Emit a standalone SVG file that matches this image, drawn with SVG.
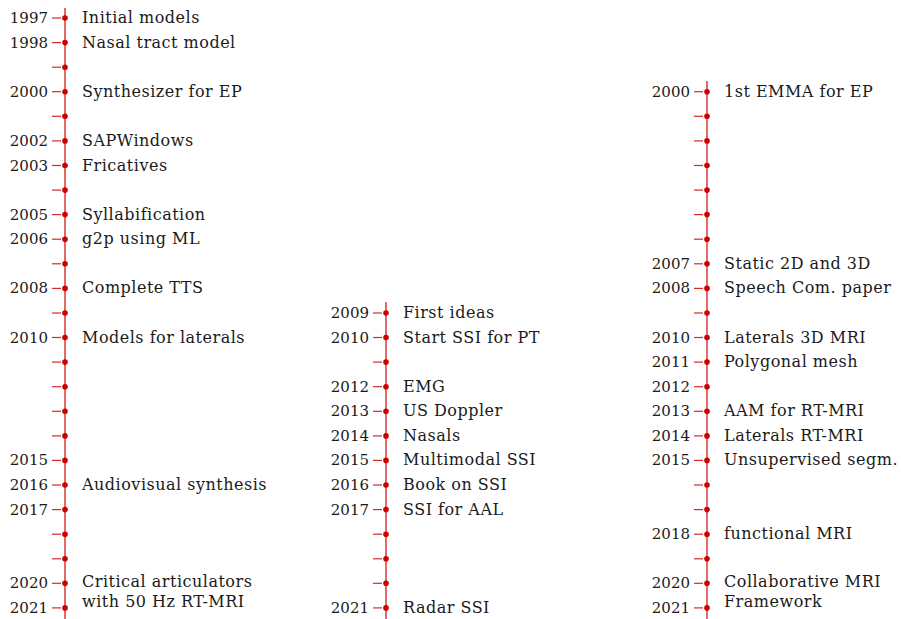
<svg xmlns="http://www.w3.org/2000/svg" width="901" height="619" viewBox="0 0 901 619">
<style>
.ln{stroke:#d42a2a;stroke-width:1.4;fill:none}
.tk{stroke:#d42a2a;stroke-width:1.2}
.dt{fill:#cc0000}
.yr{font-family:"DejaVu Serif",serif;font-size:15px;fill:#1a1a1a;text-anchor:end}
.lb{font-family:"DejaVu Serif",serif;font-size:16px;letter-spacing:0.5px;fill:#1a1a1a}
</style>
<defs>
<g id="m"><line class="tk" x1="-13" y1="0" x2="-4" y2="0"/><circle class="dt" r="2.8"/></g>
</defs>
<rect width="901" height="619" fill="#fff"/>
<g id="connectors">
<line class="ln" x1="65" y1="8" x2="65" y2="619"/>
<line class="ln" x1="386" y1="302" x2="386" y2="619"/>
<line class="ln" x1="707" y1="81" x2="707" y2="619"/>
</g>
<g id="timeline-left">
<use href="#m" x="65" y="18"/><use href="#m" x="65" y="42.6"/><use href="#m" x="65" y="67.2"/><use href="#m" x="65" y="91.7"/><use href="#m" x="65" y="116.3"/><use href="#m" x="65" y="140.9"/><use href="#m" x="65" y="165.5"/><use href="#m" x="65" y="190.1"/><use href="#m" x="65" y="214.6"/><use href="#m" x="65" y="239.2"/><use href="#m" x="65" y="263.8"/><use href="#m" x="65" y="288.4"/><use href="#m" x="65" y="313"/><use href="#m" x="65" y="337.5"/><use href="#m" x="65" y="362.1"/><use href="#m" x="65" y="386.7"/><use href="#m" x="65" y="411.3"/><use href="#m" x="65" y="435.9"/><use href="#m" x="65" y="460.4"/><use href="#m" x="65" y="485"/><use href="#m" x="65" y="509.6"/><use href="#m" x="65" y="534.2"/><use href="#m" x="65" y="558.8"/><use href="#m" x="65" y="583.3"/><use href="#m" x="65" y="607.9"/>
<text class="yr" x="48" y="23">1997</text><text class="lb" x="82" y="23">Initial models</text>
<text class="yr" x="48" y="47.6">1998</text><text class="lb" x="82" y="47.6">Nasal tract model</text>
<text class="yr" x="48" y="96.7">2000</text><text class="lb" x="82" y="96.7">Synthesizer for EP</text>
<text class="yr" x="48" y="145.9">2002</text><text class="lb" x="82" y="145.9">SAPWindows</text>
<text class="yr" x="48" y="170.5">2003</text><text class="lb" x="82" y="170.5">Fricatives</text>
<text class="yr" x="48" y="219.6">2005</text><text class="lb" x="82" y="219.6">Syllabification</text>
<text class="yr" x="48" y="244.2">2006</text><text class="lb" x="82" y="244.2">g2p using ML</text>
<text class="yr" x="48" y="293.4">2008</text><text class="lb" x="82" y="293.4">Complete TTS</text>
<text class="yr" x="48" y="342.5">2010</text><text class="lb" x="82" y="342.5">Models for laterals</text>
<text class="yr" x="48" y="465.4">2015</text>
<text class="yr" x="48" y="490">2016</text><text class="lb" x="82" y="490">Audiovisual synthesis</text>
<text class="yr" x="48" y="514.6">2017</text>
<text class="yr" x="48" y="588.3">2020</text><text class="lb" x="82" y="587.3">Critical articulators</text>
<text class="yr" x="48" y="612.9">2021</text><text class="lb" x="82" y="607">with 50 Hz RT-MRI</text>
</g>
<g id="timeline-middle">
<use href="#m" x="386" y="313"/><use href="#m" x="386" y="337.5"/><use href="#m" x="386" y="362.1"/><use href="#m" x="386" y="386.7"/><use href="#m" x="386" y="411.3"/><use href="#m" x="386" y="435.9"/><use href="#m" x="386" y="460.4"/><use href="#m" x="386" y="485"/><use href="#m" x="386" y="509.6"/><use href="#m" x="386" y="534.2"/><use href="#m" x="386" y="558.8"/><use href="#m" x="386" y="583.3"/><use href="#m" x="386" y="607.9"/>
<text class="yr" x="369" y="318">2009</text><text class="lb" x="403" y="318">First ideas</text>
<text class="yr" x="369" y="342.5">2010</text><text class="lb" x="403" y="342.5">Start SSI for PT</text>
<text class="yr" x="369" y="391.7">2012</text><text class="lb" x="403" y="391.7">EMG</text>
<text class="yr" x="369" y="416.3">2013</text><text class="lb" x="403" y="416.3">US Doppler</text>
<text class="yr" x="369" y="440.9">2014</text><text class="lb" x="403" y="440.9">Nasals</text>
<text class="yr" x="369" y="465.4">2015</text><text class="lb" x="403" y="465.4">Multimodal SSI</text>
<text class="yr" x="369" y="490">2016</text><text class="lb" x="403" y="490">Book on SSI</text>
<text class="yr" x="369" y="514.6">2017</text><text class="lb" x="403" y="514.6">SSI for AAL</text>
<text class="yr" x="369" y="612.9">2021</text><text class="lb" x="403" y="612.9">Radar SSI</text>
</g>
<g id="timeline-right">
<use href="#m" x="707" y="91.7"/><use href="#m" x="707" y="116.3"/><use href="#m" x="707" y="140.9"/><use href="#m" x="707" y="165.5"/><use href="#m" x="707" y="190.1"/><use href="#m" x="707" y="214.6"/><use href="#m" x="707" y="239.2"/><use href="#m" x="707" y="263.8"/><use href="#m" x="707" y="288.4"/><use href="#m" x="707" y="313"/><use href="#m" x="707" y="337.5"/><use href="#m" x="707" y="362.1"/><use href="#m" x="707" y="386.7"/><use href="#m" x="707" y="411.3"/><use href="#m" x="707" y="435.9"/><use href="#m" x="707" y="460.4"/><use href="#m" x="707" y="485"/><use href="#m" x="707" y="509.6"/><use href="#m" x="707" y="534.2"/><use href="#m" x="707" y="558.8"/><use href="#m" x="707" y="583.3"/><use href="#m" x="707" y="607.9"/>
<text class="yr" x="690" y="96.7">2000</text><text class="lb" x="724" y="96.7">1st EMMA for EP</text>
<text class="yr" x="690" y="268.8">2007</text><text class="lb" x="724" y="268.8">Static 2D and 3D</text>
<text class="yr" x="690" y="293.4">2008</text><text class="lb" x="724" y="293.4">Speech Com. paper</text>
<text class="yr" x="690" y="342.5">2010</text><text class="lb" x="724" y="342.5">Laterals 3D MRI</text>
<text class="yr" x="690" y="367.1">2011</text><text class="lb" x="724" y="367.1">Polygonal mesh</text>
<text class="yr" x="690" y="391.7">2012</text>
<text class="yr" x="690" y="416.3">2013</text><text class="lb" x="724" y="416.3">AAM for RT-MRI</text>
<text class="yr" x="690" y="440.9">2014</text><text class="lb" x="724" y="440.9">Laterals RT-MRI</text>
<text class="yr" x="690" y="465.4">2015</text><text class="lb" x="724" y="465.4">Unsupervised segm.</text>
<text class="yr" x="690" y="539.2">2018</text><text class="lb" x="724" y="539.2">functional MRI</text>
<text class="yr" x="690" y="588.3">2020</text><text class="lb" x="724" y="587.3">Collaborative MRI</text>
<text class="yr" x="690" y="612.9">2021</text><text class="lb" x="724" y="607">Framework</text>
</g>
</svg>
